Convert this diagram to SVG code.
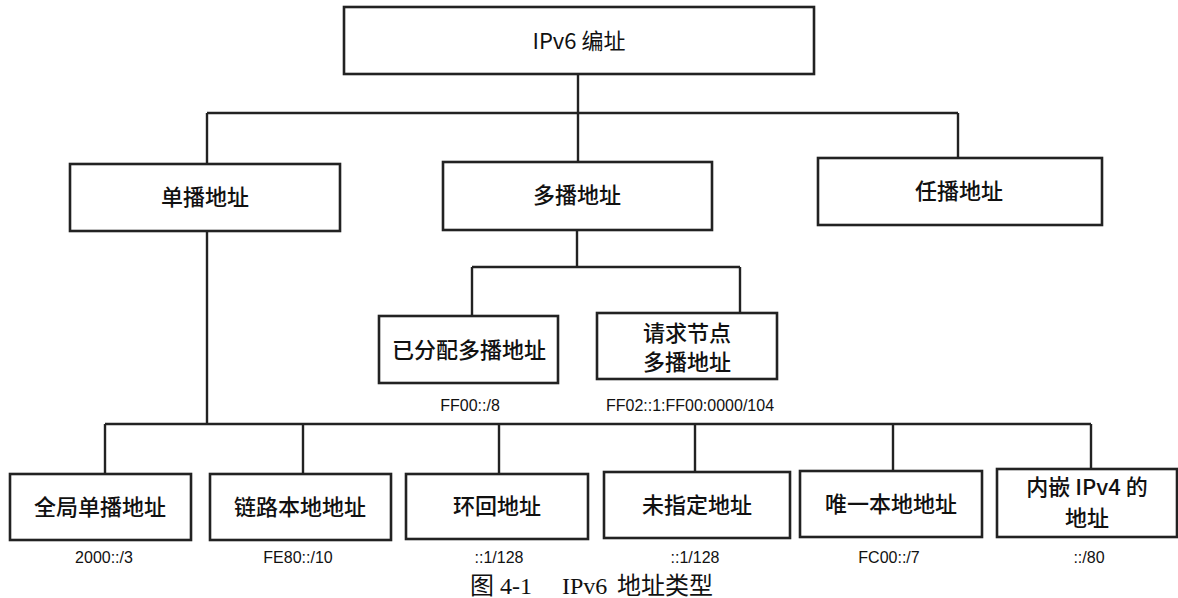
<svg xmlns="http://www.w3.org/2000/svg" width="1178" height="598" viewBox="0 0 1178 598">
<style>
.box{fill:#fff;stroke:#222;stroke-width:2.6}
.ln{fill:none;stroke:#222;stroke-width:2.4}
.t{font-family:"Noto Sans CJK SC","Liberation Sans",sans-serif;font-size:22px;fill:#111;text-anchor:middle;font-weight:500}
.lab{font-family:"Liberation Sans","Noto Sans CJK SC",sans-serif;font-size:16px;fill:#111;text-anchor:middle}
.cap{font-family:"Liberation Serif","Noto Sans CJK SC",serif;font-size:24px;fill:#111}
</style>
<rect width="1178" height="598" fill="#fff"/>
<g id="connectors">
<path class="ln" d="M578 74V113M207 113H958M207 113V165M578 113V162M958 113V158"/>
<path class="ln" d="M577 230V267M472 267H740M472 267V316M740 267V313"/>
<path class="ln" d="M207 231V424M105 424H1091M105 424V474M303 424V474M499 424V474M695 424V472M893 424V471M1091 424V469"/>
</g>
<g id="n-root"><rect class="box" x="344" y="7" width="470" height="67"/><text class="t" x="579" y="49" style="font-weight:normal">IPv6 编址</text></g>
<g id="n-unicast"><rect class="box" x="70" y="164" width="270" height="67"/><text class="t" x="205" y="205">单播地址</text></g>
<g id="n-multicast"><rect class="box" x="443" y="162" width="269" height="68"/><text class="t" x="577" y="203">多播地址</text></g>
<g id="n-anycast"><rect class="box" x="818" y="158" width="284" height="67"/><text class="t" x="959" y="199">任播地址</text></g>
<g id="n-assigned"><rect class="box" x="379" y="316" width="179" height="67"/><text class="t" x="469" y="358">已分配多播地址</text><text class="lab" x="470" y="411">FF00::/8</text></g>
<g id="n-solicited"><rect class="box" x="597" y="313" width="180" height="66"/><text class="t" x="687" y="341">请求节点</text><text class="t" x="687" y="370">多播地址</text><text class="lab" x="690" y="411">FF02::1:FF00:0000/104</text></g>
<g id="n-global"><rect class="box" x="10" y="474" width="181" height="66"/><text class="t" x="100" y="515">全局单播地址</text><text class="lab" x="104" y="563">2000::/3</text></g>
<g id="n-link"><rect class="box" x="210" y="474" width="181" height="66"/><text class="t" x="300" y="515">链路本地地址</text><text class="lab" x="298" y="563">FE80::/10</text></g>
<g id="n-loop"><rect class="box" x="406" y="474" width="182" height="65"/><text class="t" x="497" y="514">环回地址</text><text class="lab" x="499" y="563">::1/128</text></g>
<g id="n-unspec"><rect class="box" x="604" y="472" width="186" height="66"/><text class="t" x="697" y="513">未指定地址</text><text class="lab" x="695" y="563">::1/128</text></g>
<g id="n-ula"><rect class="box" x="800" y="471" width="182" height="66"/><text class="t" x="891" y="512">唯一本地地址</text><text class="lab" x="889" y="563">FC00::/7</text></g>
<g id="n-v4"><rect class="box" x="997" y="469" width="180" height="68"/><text class="t" x="1087" y="495">内嵌 IPv4 的</text><text class="t" x="1087" y="526">地址</text><text class="lab" x="1089" y="563">::/80</text></g>
<text class="cap" y="594"><tspan x="470">图 4-1</tspan><tspan x="562">IPv6</tspan><tspan x="617">地址类型</tspan></text>
</svg>
